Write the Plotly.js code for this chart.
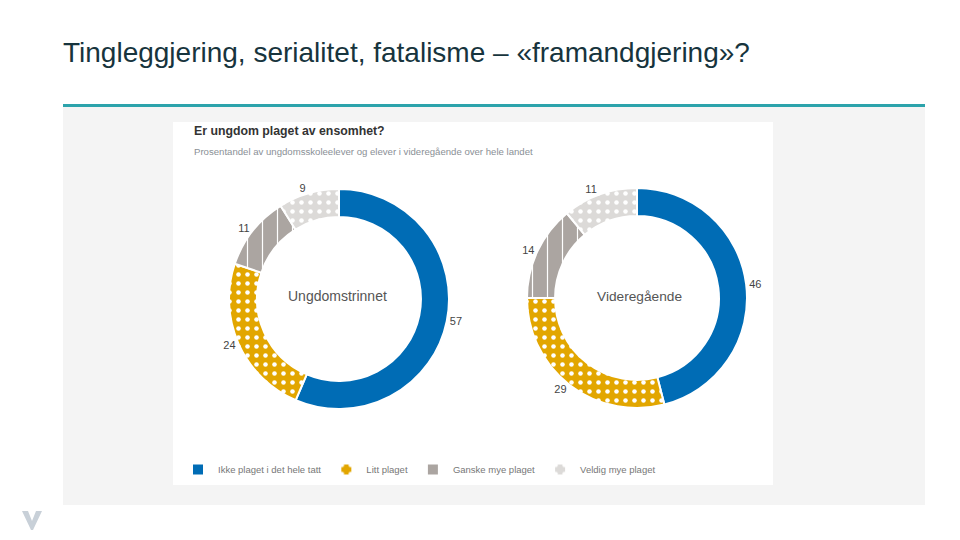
<!DOCTYPE html>
<html>
<head>
<meta charset="utf-8">
<script src="https://cdn.plot.ly/plotly-3.0.1.min.js"></script>
<style>html,body{margin:0;padding:0;background:#fff}#chart{width:960px;height:540px}</style>
</head>
<body>
<div id="chart"></div>
<script>
const categories = ["Ikke plaget i det hele tatt", "Litt plaget", "Ganske mye plaget", "Veldig mye plaget"];
const ungdomstrinnet = [57, 24, 11, 9];
const videregaende = [46, 29, 14, 11];
const groupNames = ["Ungdomstrinnet", "Videregående"];

const colors = ["#006cb5", "#e2a600", "#aba5a1", "#dcdad8"];
const pattern = {
  shape: ["", ".", "|", "."],
  bgcolor: colors,
  fgcolor: ["#ffffff", "#ffffff", "#ffffff", "#ffffff"],
  size: [8, 9, 15, 9],
  solidity: [0.2, 0.2, 0.08, 0.2],
  fillmode: "replace"
};

const W = 960, H = 540;
const px = x => x / W;
const py = y => 1 - y / H;

function donut(values, cx, cy, r, name) {
  return {
    type: "pie",
    name: name,
    labels: categories,
    values: values,
    sort: false,
    direction: "clockwise",
    rotation: 0,
    hole: 0.745,
    textinfo: "value",
    textposition: "outside",
    textfont: {family: "Liberation Sans, Arial, sans-serif", size: 11, color: "#444"},
    marker: {colors: colors, line: {color: "#ffffff", width: 2}, pattern: pattern},
    domain: {x: [px(cx - r), px(cx + r)], y: [py(cy + r), py(cy - r)]},
    hoverinfo: "skip",
    showlegend: true
  };
}

const data = [
  donut(ungdomstrinnet, 339, 299, 110, groupNames[0]),
  donut(videregaende, 637, 298, 110, groupNames[1])
];

const font = "Liberation Sans, Arial, sans-serif";

const layout = {
  width: W, height: H,
  margin: {l: 0, r: 0, t: 0, b: 0},
  paper_bgcolor: "#ffffff",
  showlegend: true,
  legend: {
    orientation: "h", x: px(178), y: py(455), xanchor: "left", yanchor: "top",
    font: {family: font, size: 9.5, color: "#777"}, bgcolor: "rgba(0,0,0,0)",
    itemwidth: 30, traceorder: "normal"
  },
  shapes: [
    {type: "rect", xref: "paper", yref: "paper", x0: px(63), x1: px(925), y0: py(505), y1: py(107), fillcolor: "#f4f4f4", line: {width: 0}, layer: "below"},
    {type: "rect", xref: "paper", yref: "paper", x0: px(63), x1: px(925), y0: py(107), y1: py(104), fillcolor: "#2ca3ab", line: {width: 0}, layer: "below"},
    {type: "rect", xref: "paper", yref: "paper", x0: px(173), x1: px(773), y0: py(485), y1: py(122), fillcolor: "#ffffff", line: {width: 0}, layer: "below"},
    {type: "path", xref: "paper", yref: "paper",
     path: "M" + px(22) + "," + py(511) + " L" + px(28) + "," + py(511) + " L" + px(32) + "," + py(521) + " L" + px(36) + "," + py(511) + " L" + px(42) + "," + py(511) + " L" + px(33) + "," + py(530) + " L" + px(31) + "," + py(530) + " Z",
     fillcolor: "#c8d0d8", line: {width: 0}, layer: "below"}
  ],
  annotations: [
    {text: "Tingleggjering, serialitet, fatalisme – «framandgjering»?", xref: "paper", yref: "paper", x: px(61), y: py(52), xanchor: "left", yanchor: "middle", showarrow: false, font: {family: font, size: 28, color: "#17343d"}},
    {text: "<b>Er ungdom plaget av ensomhet?</b>", xref: "paper", yref: "paper", x: px(192), y: py(131), xanchor: "left", yanchor: "middle", showarrow: false, font: {family: font, size: 12.3, color: "#333"}},
    {text: "Prosentandel av ungdomsskoleelever og elever i videregående over hele landet", xref: "paper", yref: "paper", x: px(192), y: py(152), xanchor: "left", yanchor: "middle", showarrow: false, font: {family: font, size: 9.6, color: "#8a9096"}},
    {text: groupNames[0], xref: "paper", yref: "paper", x: px(337), y: py(296), xanchor: "center", yanchor: "middle", showarrow: false, font: {family: font, size: 14, color: "#555"}},
    {text: groupNames[1], xref: "paper", yref: "paper", x: px(639), y: py(296), xanchor: "center", yanchor: "middle", showarrow: false, font: {family: font, size: 13.7, color: "#555"}}
  ]
};

Plotly.newPlot("chart", data, layout, {staticPlot: true, displayModeBar: false});
</script>
</body>
</html>
